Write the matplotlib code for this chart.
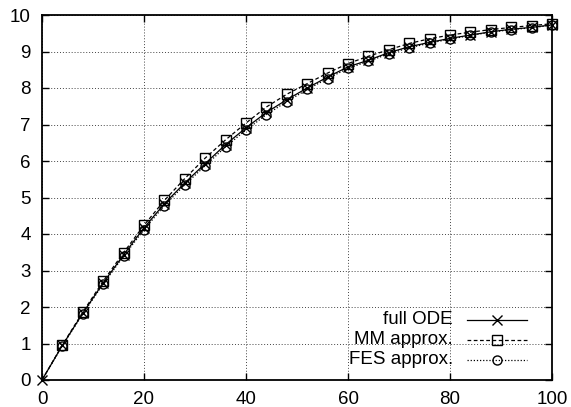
import matplotlib
matplotlib.use("Agg")
import matplotlib.pyplot as plt

plt.rcParams['font.family'] = ['Liberation Sans', 'DejaVu Sans']

t = [0, 4, 8, 12, 16, 20, 24, 28, 32, 36, 40, 44, 48, 52, 56, 60, 64, 68, 72,
     76, 80, 84, 88, 92, 96, 100]
ode = [0.0, 0.95, 1.83, 2.66, 3.43, 4.17, 4.83, 5.40, 5.93, 6.45, 6.91, 7.33,
       7.68, 8.00, 8.30, 8.58, 8.76, 8.97, 9.13, 9.25, 9.36, 9.45, 9.54, 9.61,
       9.66, 9.73]
mm = [0.0, 0.96, 1.86, 2.71, 3.49, 4.24, 4.92, 5.52, 6.08, 6.58, 7.04, 7.48,
      7.83, 8.12, 8.41, 8.67, 8.87, 9.05, 9.22, 9.35, 9.45, 9.53, 9.60, 9.66,
      9.71, 9.76]
fes = [0.0, 0.94, 1.81, 2.63, 3.39, 4.12, 4.78, 5.35, 5.87, 6.39, 6.85, 7.27,
       7.63, 7.96, 8.26, 8.54, 8.73, 8.94, 9.10, 9.23, 9.34, 9.44, 9.53, 9.60,
       9.65, 9.72]
labels = ['full ODE', 'MM approx.', 'FES approx.']
xticks = [0, 20, 40, 60, 80, 100]
yticks = [0, 1, 2, 3, 4, 5, 6, 7, 8, 9, 10]

fig = plt.figure(figsize=(5.71, 4.07), dpi=100)
ax = fig.add_axes([42/571, 27/407, 510/571, 365/407])

styles = [
    dict(ls='-', marker='x', ms=7, mew=1.0),
    dict(ls=(0, (3, 2)), marker='s', ms=7, mew=1.0, mfc='none'),
    dict(ls=(0, (1, 1.5)), marker='o', ms=6.5, mew=1.0, mfc='none'),
]
series = [ode, mm, fes]
for i, (ys, st) in enumerate(zip(series, styles)):
    me = None if i == 0 else slice(1, None)
    ax.plot(t, ys, color='black', lw=0.9, markevery=me, clip_on=False,
            zorder=3 + i, **st)

ax.set_xlim(0, 100)
ax.set_ylim(0, 10)
ax.set_xticks(xticks)
ax.set_yticks(yticks)
ax.tick_params(direction='in', length=5, width=1, top=True, right=True,
               labelsize=13.5, pad=8, colors='black')
for s in ax.spines.values():
    s.set_linewidth(1.3)
ax.grid(True, color='#444444', ls=(0, (1, 2)), lw=0.7)
ax.set_axisbelow(True)

# legend (gnuplot style: right-aligned text, sample on the right)
rows_y = [320, 340, 360]
for lab, ys, st, py in zip(labels, series, styles, rows_y):
    fy = 1 - (py - 15) / 365
    ax.text((453 - 42) / 510, fy, lab, transform=ax.transAxes, ha='right',
            va='center', fontsize=13.5)
    x0, x1 = (467 - 42) / 510, (527 - 42) / 510
    ax.plot([x0, (x0 + x1) / 2, x1], [fy, fy, fy], transform=ax.transAxes,
            color='black', lw=0.9, markevery=[1], clip_on=False, **st)

fig.savefig('out.png', dpi=100)
